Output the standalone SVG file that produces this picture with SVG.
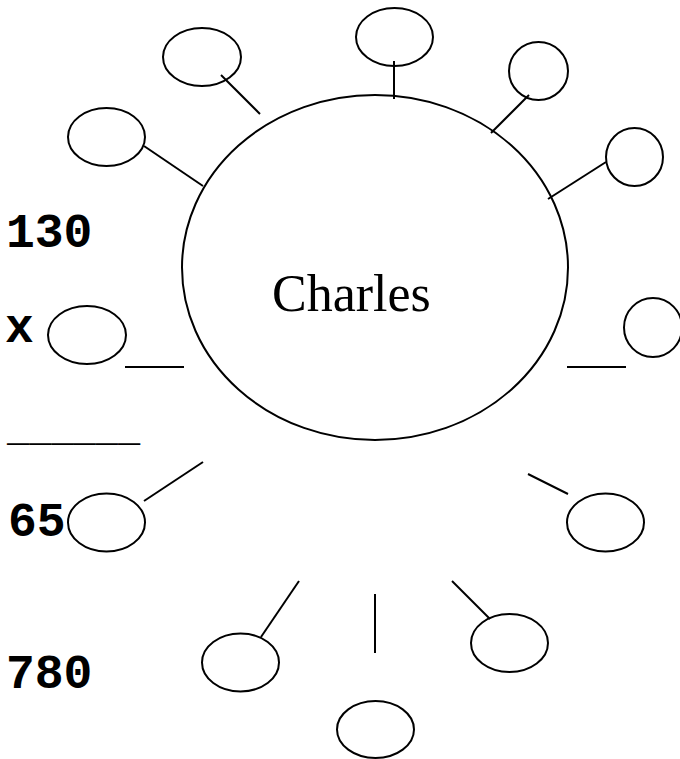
<svg xmlns="http://www.w3.org/2000/svg" width="680" height="759" viewBox="0 0 680 759">
<style>
.n{fill:none;stroke:#000;stroke-width:2}
.c line{stroke:#000;stroke-width:2}
.m{font-family:"Liberation Mono","Courier New",monospace;font-weight:bold;font-size:48px;fill:#000}
.t{font-family:"Liberation Serif","Times New Roman",serif;font-size:52px;fill:#000}
</style>
<rect width="680" height="759" fill="#fff"/>
<g id="center"><ellipse class="n" cx="375" cy="267.5" rx="193" ry="172.5"/><text class="t" x="272" y="311">Charles</text></g>
<g id="n1"><ellipse class="n" cx="202" cy="57" rx="39" ry="29"/></g>
<g id="n2"><ellipse class="n" cx="106.5" cy="137" rx="38.5" ry="29"/></g>
<g id="n3"><ellipse class="n" cx="394.5" cy="37" rx="38.5" ry="29"/></g>
<g id="n4"><ellipse class="n" cx="538.5" cy="71" rx="29.5" ry="29"/></g>
<g id="n5"><ellipse class="n" cx="634.5" cy="157" rx="28.5" ry="29"/></g>
<g id="n6"><ellipse class="n" cx="653" cy="327.5" rx="29" ry="29.5"/></g>
<g id="n7"><ellipse class="n" cx="87" cy="335" rx="39" ry="29"/></g>
<g id="n8"><ellipse class="n" cx="106.5" cy="522.5" rx="38.5" ry="29"/></g>
<g id="n9"><ellipse class="n" cx="605.5" cy="522.5" rx="38.5" ry="29"/></g>
<g id="n10"><ellipse class="n" cx="240.5" cy="662.5" rx="38.5" ry="29"/></g>
<g id="n11"><ellipse class="n" cx="509.5" cy="643" rx="38.5" ry="29"/></g>
<g id="n12"><ellipse class="n" cx="375.5" cy="729.5" rx="38.5" ry="28.5"/></g>
<g id="connectors" class="c">
<line x1="221" y1="75" x2="260" y2="114"/>
<line x1="144" y1="146" x2="203" y2="186"/>
<line x1="394" y1="61" x2="394" y2="99"/>
<line x1="529" y1="95" x2="491" y2="133"/>
<line x1="606" y1="162" x2="548" y2="199"/>
<line x1="567" y1="367" x2="626" y2="367"/>
<line x1="125" y1="367" x2="184" y2="367"/>
<line x1="144" y1="501" x2="203" y2="462"/>
<line x1="528" y1="474" x2="568" y2="494"/>
<line x1="261" y1="637" x2="299" y2="581"/>
<line x1="452" y1="581" x2="490" y2="619"/>
<line x1="375" y1="594" x2="375" y2="653"/>
</g>
<g id="labels">
<text class="m" x="6" y="247">130</text>
<text class="m" x="5" y="342">x</text>
<text class="m" x="8" y="536">65</text>
<text class="m" x="6" y="688">780</text>
<text class="m" x="7" y="441" style="font-size:37px;font-weight:normal">______</text>
</g>
</svg>
